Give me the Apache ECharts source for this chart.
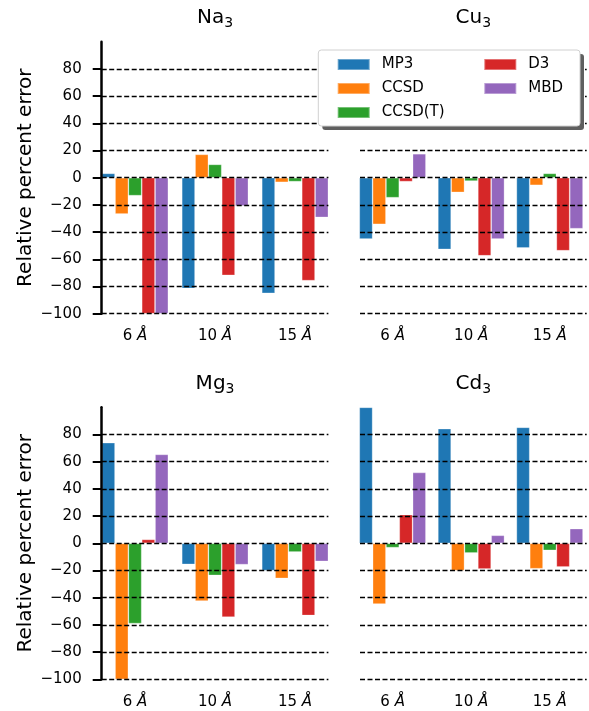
<!DOCTYPE html>
<html>
<head>
<meta charset="utf-8">
<script src="https://cdn.jsdelivr.net/npm/echarts@6/dist/echarts.min.js"></script>
<style>
  html, body { margin: 0; padding: 0; background: #fff; }
  #chart { width: 589px; height: 711px; }
</style>
</head>
<body>
<div id="chart"></div>
<script>
// categories + methods
const categories = ['6 Å', '10 Å', '15 Å'];
const methods = ['MP3', 'CCSD', 'CCSD(T)', 'D3', 'MBD'];
const colors = ['#1f77b4', '#ff7f0e', '#2ca02c', '#d62728', '#9467bd'];

// y range is -100..100, ticks/grid lines only -100..80
const yMin = -100;
const yMax = 100;
const yTickMax = 80;
const yStep = 20;

// relative percent error, one row per method (MP3, CCSD, CCSD(T), D3, MBD), columns = 6/10/15 Å
const na3 = [
  [3.2, -81.4, -85.0],
  [-26.7, 17.2, -3.4],
  [-13.2, 9.8, -2.9],
  [-100, -71.8, -75.7],
  [-100, -20.8, -29.2]
];
const cu3 = [
  [-45.1, -52.7, -51.7],
  [-34.3, -10.8, -5.6],
  [-14.7, -2.5, 3.2],
  [-2.9, -57.4, -53.7],
  [17.6, -45.1, -37.5]
];
const mg3 = [
  [74.0, -15.5, -20.1],
  [-100, -42.5, -25.8],
  [-59.0, -23.6, -6.4],
  [2.9, -54.3, -53.1],
  [65.4, -15.7, -13.3]
];
const cd3 = [
  [100, 84.3, 85.3],
  [-44.7, -20.1, -18.7],
  [-3.2, -7.1, -5.2],
  [21.1, -18.9, -17.4],
  [52.1, 5.9, 10.8]
];

const panels = [
  { name: 'Na', data: na3, left: 101.7, top: 41.7 },
  { name: 'Cu', data: cu3, left: 360, top: 41.7 },
  { name: 'Mg', data: mg3, left: 101.7, top: 407.3 },
  { name: 'Cd', data: cd3, left: 360, top: 407.3 }
];
const panelW = 226.7, panelH = 272;
const barW = 13.33;

let chart = echarts.init(document.getElementById('chart'));

let grids = [], xAxes = [], yAxes = [], series = [], titles = [];
const minus = v => String(v).replace('-', '\u2212');
// part of the panel above the last tick
const topGap = panelH * (yMax - yTickMax) / (yMax - yMin);

panels.forEach((p, i) => {
  let showLeft = i % 2 === 0;
  // frame grid: ticks + dashed lines from -100 to 80 (drawn on top of bars)
  grids.push({ left: p.left, top: p.top + topGap, width: panelW, height: panelH - topGap });
  // bar grid: half a bar wider on each side so the groups start at the spine
  grids.push({ left: p.left - barW / 2, top: p.top, width: panelW + barW, height: panelH });

  xAxes.push({ gridIndex: 2 * i, type: 'category', data: categories, show: false });
  xAxes.push({
    gridIndex: 2 * i + 1, type: 'category', data: categories,
    axisLine: { show: false, onZero: false },
    axisTick: { show: false },
    axisLabel: {
      interval: 0, margin: 15, fontSize: 15, color: '#000',
      formatter: v => v.split(' ')[0] + ' {i|Å}',
      rich: { i: { fontSize: 15, fontStyle: 'italic', color: '#000' } }
    }
  });

  yAxes.push({
    gridIndex: 2 * i, type: 'value', min: yMin, max: yTickMax, interval: yStep, z: 5,
    axisLine: { show: false },
    axisTick: { show: showLeft, length: 9, lineStyle: { color: '#000', width: 2 } },
    axisLabel: { show: showLeft, margin: 20, fontSize: 15, color: '#000', formatter: minus },
    splitLine: { show: true, lineStyle: { color: '#000', width: 1.4, type: [5, 2.5] } }
  });
  // spine over the full -100..100 range, moved back onto the frame's left edge
  yAxes.push({
    gridIndex: 2 * i + 1, type: 'value', min: yMin, max: yMax, interval: yStep, z: 5,
    offset: -barW / 2,
    name: showLeft ? 'Relative percent error' : '',
    nameLocation: 'middle', nameGap: 66,
    nameTextStyle: { fontSize: 20, color: '#000' },
    axisLine: { show: showLeft, onZero: false, lineStyle: { color: '#000', width: 2.5 } },
    axisTick: { show: false },
    axisLabel: { show: false },
    splitLine: { show: false }
  });

  methods.forEach((m, j) => {
    series.push({
      type: 'bar', name: m,
      xAxisIndex: 2 * i + 1, yAxisIndex: 2 * i + 1,
      data: p.data[j],
      barWidth: barW, barGap: '0%',
      itemStyle: { color: colors[j], borderColor: 'rgba(255,255,255,0.35)', borderWidth: 0.8 }
    });
  });

  titles.push({
    text: p.name + '{s|3}',
    left: p.left + panelW / 2, top: p.top - 36, textAlign: 'center', padding: 0,
    textStyle: {
      fontSize: 20, fontWeight: 'normal', color: '#000',
      rich: { s: { fontSize: 14, color: '#000', padding: [11, 0, 0, 0] } }
    }
  });
});

let legendBase = {
  orient: 'vertical', icon: 'rect', itemWidth: 32, itemHeight: 11,
  itemGap: 9, padding: 0, z: 20,
  textStyle: { fontSize: 15, color: '#000', padding: [0, 0, 0, 7] }
};

let option = {
  animation: false,
  textStyle: { fontFamily: 'DejaVu Sans' },
  color: colors,
  title: titles,
  grid: grids,
  xAxis: xAxes,
  yAxis: yAxes,
  legend: [
    Object.assign({}, legendBase, { data: methods.slice(0, 3), left: 336.7, top: 57 }),
    Object.assign({}, legendBase, { data: methods.slice(3), left: 483.3, top: 57 })
  ],
  graphic: [
    { type: 'rect', z: 15, shape: { x: 322.3, y: 54, width: 261.7, height: 76, r: 3 },
      style: { fill: '#5f5f5f' } },
    { type: 'rect', z: 16, shape: { x: 318.3, y: 50, width: 261.7, height: 76, r: 3 },
      style: { fill: '#fff', stroke: '#d0d0d0', lineWidth: 1 } }
  ],
  series: series
};

chart.setOption(option);
</script>
</body>
</html>
